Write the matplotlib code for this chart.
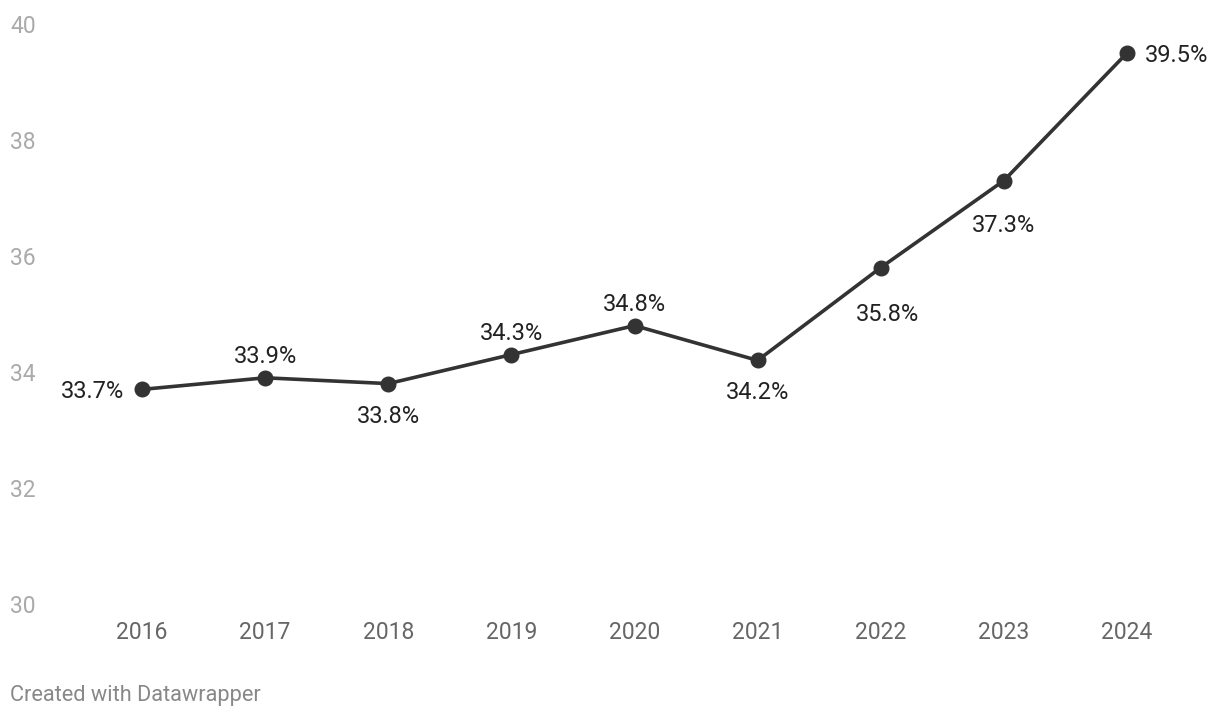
import matplotlib.pyplot as plt

plt.rcParams['font.family'] = ['Roboto', 'DejaVu Sans']

# data
years = [2016, 2017, 2018, 2019, 2020, 2021, 2022, 2023, 2024]
values = [33.7, 33.9, 33.8, 34.3, 34.8, 34.2, 35.8, 37.3, 39.5]
y_ticks = [30, 32, 34, 36, 38, 40]

# label placement (offset in pixels, horizontal alignment)
label_offsets = [(-18, 0), (0, 24), (0, -30), (0, 24), (0, 24),
                 (0, -30), (7, -44), (0, -42), (18, 0)]
label_ha = ['right', 'center', 'center', 'center', 'center',
            'center', 'center', 'center', 'left']

W, H = 1220, 722
fig = plt.figure(figsize=(W / 100, H / 100), dpi=100)
# axes box: 2016 -> x=142px, 2024 -> x=1127px, 30 -> y=604px, 40 -> y=24px
left, right = 142 / W, 1127 / W
bottom, top = (H - 604) / H, (H - 24) / H
ax = fig.add_axes([left, bottom, right - left, top - bottom])
ax.set_xlim(years[0], years[-1])
ax.set_ylim(30, 40)
for s in ax.spines.values():
    s.set_visible(False)

ax.plot(years, values, color='#333333', lw=2.6, marker='o', ms=10.5,
        clip_on=False, zorder=3, solid_capstyle='round')

for x, v, off, ha in zip(years, values, label_offsets, label_ha):
    ax.annotate(f'{v:.1f}%', (x, v), xytext=off, textcoords='offset pixels',
                ha=ha, va='center_baseline', fontsize=17, color='#222222')

# y axis labels at far left
ax.set_yticks(y_ticks)
ax.set_yticklabels([str(t) for t in y_ticks])
ax.tick_params(axis='y', length=0, pad=(142 - 10) * 0.72, labelsize=16.5,
               labelcolor='#aaaaaa')
for lab in ax.get_yticklabels():
    lab.set_horizontalalignment('left')
    lab.set_verticalalignment('center_baseline')

ax.set_xticks(years)
ax.set_xticklabels([str(y) for y in years])
ax.tick_params(axis='x', length=0, pad=12, labelsize=16.5, labelcolor='#666666')

fig.text(10 / W, 1 - 696 / H, 'Created with Datawrapper', fontsize=15.7,
         color='#888888', ha='left', va='center')

fig.savefig('out.png', dpi=100)
